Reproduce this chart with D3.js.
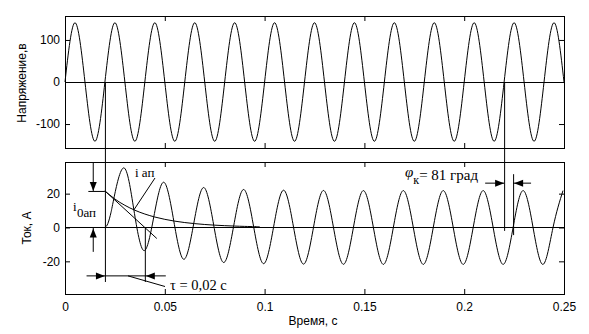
<!DOCTYPE html>
<html>
<head>
<meta charset="utf-8">
<script src="https://cdn.jsdelivr.net/npm/d3@7"></script>
<style>
body { margin: 0; background: #fff; }
.tick text { font-family: "Liberation Sans", Arial, sans-serif; font-size: 12px; fill: #000; }
.tick line { stroke: #000; }
.curve { fill: none; stroke: #000; stroke-width: 1; }
.frame { fill: none; stroke: #000; stroke-width: 1; }
.note { font-family: "Liberation Serif", "Times New Roman", serif; font-size: 14px; fill: #000; }
.label { font-family: "Liberation Sans", Arial, sans-serif; font-size: 12px; fill: #000; }
</style>
</head>
<body>
<div id="chart"></div>
<script>
var width = 589,
    height = 334;

// x axis
var xTicks = [0, 0.05, 0.1, 0.15, 0.2, 0.25];
var xTickLabels = ["0", "0.05", "0.1", "0.15", "0.2", "0.25"];

// top panel: voltage
var uTicks = [-100, 0, 100];
var uTickLabels = ["-100", "0", "100"];
var voltT = [0, 0.005, 0.01, 0.015, 0.02, 0.025, 0.03, 0.035, 0.04, 0.045,
    0.05, 0.055, 0.06, 0.065, 0.07, 0.075, 0.08, 0.085, 0.09, 0.095,
    0.1, 0.105, 0.11, 0.115, 0.12, 0.125, 0.13, 0.135, 0.14, 0.145,
    0.15, 0.155, 0.16, 0.165, 0.17, 0.175, 0.18, 0.185, 0.19, 0.195,
    0.2, 0.205, 0.21, 0.215, 0.22, 0.225, 0.23, 0.235, 0.24, 0.245, 0.25];
var voltV = [0, 141, 0, -141, 0, 141, 0, -141, 0, 141,
    0, -141, 0, 141, 0, -141, 0, 141, 0, -141,
    0, 141, 0, -141, 0, 141, 0, -141, 0, 141,
    0, -141, 0, 141, 0, -141, 0, 141, 0, -141,
    0, 141, 0, -141, 0, 141, 0, -141, 0, 141, 0];

// bottom panel: current
var iTicks = [-20, 0, 20];
var iTickLabels = ["-20", "0", "20"];
var currPreT = [0, 0.02];
var currPreV = [0, 0];
var currT = [0.02, 0.0215, 0.023, 0.0245, 0.0295, 0.0345, 0.0395, 0.0445, 0.0495, 0.0545,
    0.0595, 0.0645, 0.0695, 0.0745, 0.0795, 0.0845, 0.0895, 0.0945, 0.0995, 0.1045,
    0.1095, 0.1145, 0.1195, 0.1245, 0.1295, 0.1345, 0.1395, 0.1445, 0.1495, 0.1545,
    0.1595, 0.1645, 0.1695, 0.1745, 0.1795, 0.1845, 0.1895, 0.1945, 0.1995, 0.2045,
    0.2095, 0.2145, 0.2195, 0.2245, 0.2295, 0.2345, 0.2395, 0.2445, 0.2495];
var currV = [0, 2.4, 8.69, 17.25, 35.23, 10.46, -13.65, 6.35, 26.74, 3.85,
    -18.8, 2.33, 23.62, 1.42, -20.7, 0.86, 22.47, 0.52, -21.39, 0.32,
    22.05, 0.19, -21.65, 0.12, 21.89, 0.07, -21.75, 0.04, 21.8, 0,
    -21.8, 0, 21.8, 0, -21.8, 0, 21.8, 0, -21.8, 0,
    21.8, 0, -21.8, 0, 21.8, 0, -21.8, 0, 21.8];
// aperiodic component i_ап
var apT = [0.02, 0.025, 0.03, 0.035, 0.04, 0.045, 0.05, 0.055, 0.06, 0.065,
    0.07, 0.075, 0.08, 0.085, 0.09, 0.095, 0.0975];
var apV = [21.6, 16.82, 13.1, 10.2, 7.95, 6.19, 4.82, 3.75, 2.92, 2.28,
    1.77, 1.38, 1.08, 0.84, 0.65, 0.51, 0.45];
// tangent to i_ап at the switching moment
var tanT = [0.02, 0.046];
var tanV = [21.6, -6.5];

var tSwitch = 0.02,
    tau = 0.02,
    i0 = 21.6,
    tPhi = 0.22,
    phiDeg = 81;
var tPhiI = tPhi + phiDeg / 360 * 0.02;

var svg = d3.select("#chart").append("svg")
    .attr("width", width)
    .attr("height", height)
    .style("background", "#fff");

var x = d3.scaleLinear().domain([0, 0.25]).range([65, 564]);
var yU = d3.scaleLinear().domain([-157, 157]).range([148, 16]);
var yI = d3.scaleLinear().domain([-39.3, 38.7]).range([294, 162]);

function drawPanel(y, ticks, tickLabels, showX) {
    var g = svg.append("g");
    var y0 = y.range()[0],
        y1 = y.range()[1];

    g.append("g")
        .attr("transform", "translate(0," + y0 + ")")
        .call(d3.axisBottom(x).tickValues(xTicks).tickSize(-5).tickPadding(8)
            .tickFormat(function (d, i) { return showX ? xTickLabels[i] : ""; }));
    g.append("g")
        .attr("transform", "translate(0," + y1 + ")")
        .call(d3.axisTop(x).tickValues(xTicks).tickSize(-5).tickFormat(""));
    g.append("g")
        .attr("transform", "translate(" + x(0) + ",0)")
        .call(d3.axisLeft(y).tickValues(ticks).tickSize(-5).tickPadding(5)
            .tickFormat(function (d, i) { return tickLabels[i]; }));
    g.append("g")
        .attr("transform", "translate(" + x(0.25) + ",0)")
        .call(d3.axisRight(y).tickValues(ticks).tickSize(-5).tickFormat(""));
    g.selectAll(".domain").remove();

    g.append("rect")
        .attr("class", "frame")
        .attr("x", x(0) + 0.5)
        .attr("y", y1 + 0.5)
        .attr("width", x(0.25) - x(0))
        .attr("height", y0 - y1);

    // zero line
    g.append("line")
        .attr("x1", x(0)).attr("x2", x(0.25))
        .attr("y1", Math.round(y(0)) + 0.5).attr("y2", Math.round(y(0)) + 0.5)
        .attr("stroke", "#000");
    return g;
}

drawPanel(yU, uTicks, uTickLabels, false);
drawPanel(yI, iTicks, iTickLabels, true);

function curve(t, v, y, interp) {
    var line = d3.line()
        .x(function (d) { return x(d[0]); })
        .y(function (d) { return y(d[1]); })
        .curve(interp || d3.curveNatural);
    svg.append("path")
        .attr("class", "curve")
        .attr("d", line(d3.zip(t, v)));
}

curve(voltT, voltV, yU);
curve(currPreT, currPreV, yI, d3.curveLinear);
curve(currT, currV, yI);
curve(apT, apV, yI);
curve(tanT, tanV, yI, d3.curveLinear);

function seg(x1, y1, x2, y2) {
    svg.append("line")
        .attr("x1", x1).attr("y1", y1)
        .attr("x2", x2).attr("y2", y2)
        .attr("stroke", "#000")
        .attr("stroke-width", 1);
}

// filled arrow head, tip at (tx, ty), pointing along (dx, dy)
function head(tx, ty, dx, dy) {
    var len = 9, half = 3.5;
    var bx = tx - dx * len, by = ty - dy * len;
    var px = -dy * half, py = dx * half;
    svg.append("path")
        .attr("d", "M" + tx + "," + ty + "L" + (bx + px) + "," + (by + py) +
            "L" + (bx - px) + "," + (by - py) + "Z")
        .attr("fill", "#000");
}

// vertical marker lines across both panels
seg(x(tSwitch) + 0.5, yU(0), x(tSwitch) + 0.5, yI(-32.2));
seg(x(tPhi) + 0.5, yU(0), x(tPhi) + 0.5, yI(-2));
seg(x(tSwitch + tau) + 0.5, yI(0), x(tSwitch + tau) + 0.5, yI(-32.2));
seg(x(tPhiI) + 0.5, yI(31.5), x(tPhiI) + 0.5, yI(-4.5));

// i0ап arrows
var xa = x(0.0139) + 0.5;
seg(x(0.0117), yI(i0) + 0.5, x(tSwitch), yI(i0) + 0.5);
seg(xa, yI(38.7), xa, yI(i0));
head(xa, yI(i0), 0, 1);
seg(xa, yI(-14.4), xa, yI(0));
head(xa, yI(0) + 1, 0, -1);

svg.append("text").attr("class", "note")
    .attr("x", 73).attr("y", 211).style("font-size", "13px").text("i");
svg.append("text").attr("class", "note")
    .attr("x", 77).attr("y", 216.5).style("font-size", "13px").text("0ап");

// i ап label
svg.append("text").attr("class", "note")
    .attr("x", 135).attr("y", 177).style("font-size", "13px").text("i ап");
seg(155, 178, x(0.0345), yI(10.4));

// tau arrows
var yt = yI(-28.3) + 0.5;
seg(x(0.0108), yt, x(0.0505), yt);
head(x(tSwitch), yt, 1, 0);
head(x(tSwitch + tau) + 1, yt, -1, 0);
seg(128, yt, 165, 286.5);
svg.append("text").attr("class", "note")
    .attr("x", 170).attr("y", 290).style("font-size", "14.5px").text("τ = 0,02 с");

// phi arrows
var yp = yI(26.5) + 0.5;
seg(x(0.2105), yp, x(tPhi), yp);
head(x(tPhi), yp, 1, 0);
seg(x(tPhiI), yp, x(0.2335), yp);
head(x(tPhiI) + 1, yp, -1, 0);
var phiText = svg.append("text").attr("class", "note")
    .attr("x", 405).attr("y", 180).style("font-size", "15px");
phiText.append("tspan").attr("dy", -3).style("font-style", "italic").text("φ");
phiText.append("tspan").attr("dy", 7).style("font-size", "12px").text("к");
phiText.append("tspan").attr("dy", -4).text("= 81 град");

// axis labels
svg.append("text").attr("class", "label")
    .attr("text-anchor", "middle")
    .attr("transform", "translate(26,83) rotate(-90)")
    .text("Напряжение,в");
svg.append("text").attr("class", "label")
    .attr("text-anchor", "middle")
    .attr("transform", "translate(31,228) rotate(-90)")
    .text("Ток, А");
svg.append("text").attr("class", "label")
    .attr("text-anchor", "middle")
    .attr("x", 313).attr("y", 325)
    .text("Время, с");
</script>
</body>
</html>
